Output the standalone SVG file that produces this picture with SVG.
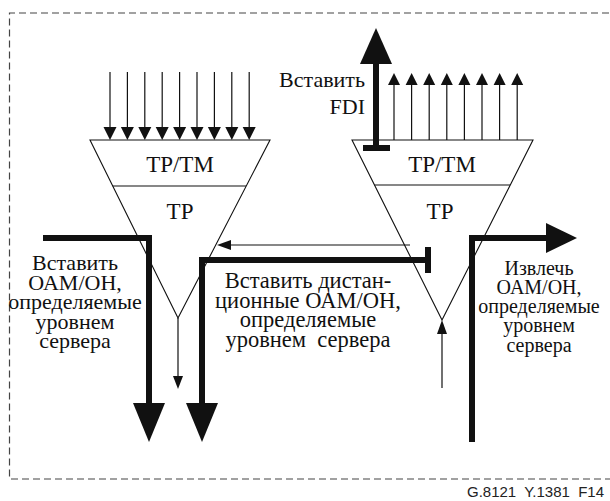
<svg xmlns="http://www.w3.org/2000/svg" width="610" height="501" viewBox="0 0 610 501">
  <style>
    .frame { fill: none; stroke: #444; stroke-width: 1.2; stroke-dasharray: 7 4; }
    .tri { fill: #fff; stroke: #111; stroke-width: 1.1; }
    .thin { fill: none; stroke: #111; stroke-width: 1.2; }
    .thick { fill: none; stroke: #111; stroke-width: 6; stroke-linejoin: miter; }
    .head { fill: #111; }
    text { font-family: 'Liberation Serif', 'Times New Roman', serif; fill: #111; }
    .lbl { text-anchor: middle; }
    .big { font-size: 23px; text-anchor: middle; }
    .cap { font-family: 'Liberation Sans', Arial, sans-serif; font-size: 15px; fill: #222; }
  </style>
  <rect width="610" height="501" fill="#fff"/>

  <!-- dashed frame, open on the right -->
  <path class="frame" d="M620,13 H9.5 V479 H620"/>

  <!-- left termination function -->
  <g id="node-left">
    <polygon class="tri" points="90,140 270,140 178,318"/>
    <line class="thin" x1="112.7" y1="186" x2="246" y2="186"/>
    <text class="big" x="180" y="172">TP/TM</text>
    <text class="big" x="180" y="219">TP</text>
  </g>

  <!-- right termination function -->
  <g id="node-right">
    <polygon class="tri" points="352,140 533,140 442,320"/>
    <line class="thin" x1="374.5" y1="185" x2="510" y2="185"/>
    <text class="big" x="442" y="172">TP/TM</text>
    <text class="big" x="440" y="219">TP</text>
  </g>

  <g id="connectors">
    <!-- incoming signals into the left function -->
    <g id="in-arrows">
      <line class="thin" x1="110" y1="72" x2="110" y2="128"/><polygon class="head" points="103.5,127 116.5,127 110,140"/>
      <line class="thin" x1="127.4" y1="72" x2="127.4" y2="128"/><polygon class="head" points="120.9,127 133.9,127 127.4,140"/>
      <line class="thin" x1="144.8" y1="72" x2="144.8" y2="128"/><polygon class="head" points="138.3,127 151.3,127 144.8,140"/>
      <line class="thin" x1="162.2" y1="72" x2="162.2" y2="128"/><polygon class="head" points="155.7,127 168.7,127 162.2,140"/>
      <line class="thin" x1="179.6" y1="72" x2="179.6" y2="128"/><polygon class="head" points="173.1,127 186.1,127 179.6,140"/>
      <line class="thin" x1="197" y1="72" x2="197" y2="128"/><polygon class="head" points="190.5,127 203.5,127 197,140"/>
      <line class="thin" x1="214.4" y1="72" x2="214.4" y2="128"/><polygon class="head" points="207.9,127 220.9,127 214.4,140"/>
      <line class="thin" x1="231.8" y1="72" x2="231.8" y2="128"/><polygon class="head" points="225.3,127 238.3,127 231.8,140"/>
      <line class="thin" x1="249.2" y1="72" x2="249.2" y2="128"/><polygon class="head" points="242.7,127 255.7,127 249.2,140"/>
    </g>

    <!-- outgoing signals from the right function -->
    <g id="out-arrows">
      <line class="thin" x1="394" y1="140" x2="394" y2="84"/><polygon class="head" points="388,85 400,85 394,73"/>
      <line class="thin" x1="411.6" y1="140" x2="411.6" y2="84"/><polygon class="head" points="405.6,85 417.6,85 411.6,73"/>
      <line class="thin" x1="429.2" y1="140" x2="429.2" y2="84"/><polygon class="head" points="423.2,85 435.2,85 429.2,73"/>
      <line class="thin" x1="446.8" y1="140" x2="446.8" y2="84"/><polygon class="head" points="440.8,85 452.8,85 446.8,73"/>
      <line class="thin" x1="464.4" y1="140" x2="464.4" y2="84"/><polygon class="head" points="458.4,85 470.4,85 464.4,73"/>
      <line class="thin" x1="482" y1="140" x2="482" y2="84"/><polygon class="head" points="476,85 488,85 482,73"/>
      <line class="thin" x1="499.6" y1="140" x2="499.6" y2="84"/><polygon class="head" points="493.6,85 505.6,85 499.6,73"/>
      <line class="thin" x1="517.2" y1="140" x2="517.2" y2="84"/><polygon class="head" points="511.2,85 523.2,85 517.2,73"/>
    </g>

    <!-- FDI insertion -->
    <line class="thick" x1="376" y1="148" x2="376" y2="60"/>
    <line class="thick" x1="363" y1="148" x2="390" y2="148"/>
    <polygon class="head" points="360,64 392,64 376,28"/>

    <!-- server layer OAM/OH insertion (left) -->
    <path class="thick" d="M43,238 H149 V406"/>
    <polygon class="head" points="133,403 165,403 149,442"/>

    <!-- remote OAM/OH insertion -->
    <path class="thick" d="M428,260 H202 V406"/>
    <line class="thick" x1="428" y1="247" x2="428" y2="273"/>
    <polygon class="head" points="186,403 218,403 202,442"/>

    <!-- remote indication towards the left function -->
    <line class="thin" x1="410" y1="245" x2="228" y2="245"/>
    <polygon class="head" points="217,245 231,240 231,250"/>

    <!-- server layer signals at the apexes -->
    <line class="thin" x1="178" y1="318" x2="178" y2="378"/>
    <polygon class="head" points="173,376 183,376 178,389"/>
    <line class="thin" x1="442" y1="388" x2="442" y2="332"/>
    <polygon class="head" points="437,334 447,334 442,320"/>

    <!-- server layer OAM/OH extraction (right) -->
    <path class="thick" d="M472,442 V238 H549"/>
    <polygon class="head" points="546,223 577,238 546,253"/>
  </g>

  <!-- labels -->
  <g id="label-fdi">
    <text style="font-size:22px; text-anchor:end"><tspan x="365" y="87">Вставить</tspan><tspan x="365" y="114">FDI</tspan></text>
  </g>
  <g id="label-insert">
    <text class="lbl" style="font-size:22px"><tspan x="75" y="270">Вставить</tspan><tspan x="75" y="289.5">ОАМ/ОН,</tspan><tspan x="75" y="309">определяемые</tspan><tspan x="75" y="328.5">уровнем</tspan><tspan x="75" y="348">сервера</tspan></text>
  </g>
  <g id="label-remote">
    <text class="lbl" style="font-size:22.5px" xml:space="preserve"><tspan x="308" y="288">Вставить дистан-</tspan><tspan x="308" y="308">ционные ОАМ/ОН,</tspan><tspan x="308" y="327">определяемые</tspan><tspan x="308" y="347">уровнем  сервера</tspan></text>
  </g>
  <g id="label-extract">
    <text class="lbl" style="font-size:20px"><tspan x="539" y="275">Извлечь</tspan><tspan x="539" y="294">ОАМ/ОН,</tspan><tspan x="539" y="313">определяемые</tspan><tspan x="539" y="332">уровнем</tspan><tspan x="539" y="352">сервера</tspan></text>
  </g>

  <text class="cap" x="467" y="497" xml:space="preserve">G.8121  Y.1381  F14</text>
</svg>
